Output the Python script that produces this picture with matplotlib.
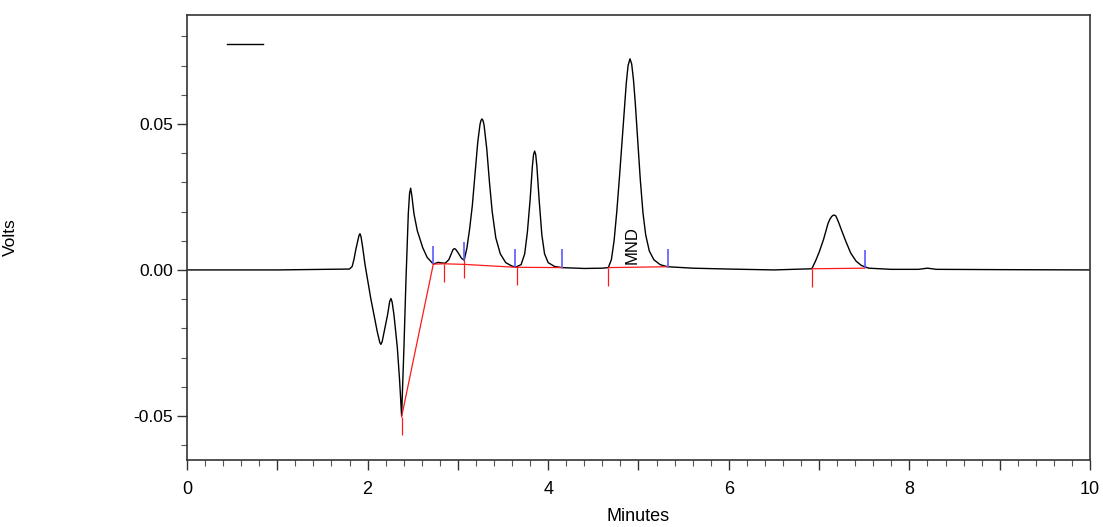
import matplotlib.pyplot as plt
from matplotlib.ticker import MultipleLocator, FuncFormatter
from matplotlib.lines import Line2D

# detector trace (minutes, volts)
time = [0.0, 1.0, 1.80, 1.83, 1.85, 1.87, 1.897, 1.905, 1.916, 1.928, 1.946, 1.971,
        2.034, 2.107, 2.135, 2.148, 2.162, 2.185, 2.222, 2.245, 2.259, 2.272, 2.292,
        2.329, 2.355, 2.377, 2.403, 2.425, 2.451, 2.465, 2.477, 2.49, 2.514, 2.551,
        2.61, 2.66, 2.728, 2.78, 2.82, 2.86, 2.90, 2.93, 2.945, 2.96, 2.975, 3.00,
        3.04, 3.07, 3.10, 3.13, 3.16, 3.19, 3.22, 3.245, 3.256, 3.267, 3.278, 3.29,
        3.32, 3.35, 3.38, 3.42, 3.47, 3.53, 3.60, 3.643, 3.70, 3.74, 3.77, 3.80,
        3.813, 3.825, 3.838, 3.85, 3.862, 3.875, 3.887, 3.90, 3.93, 3.96, 4.00,
        4.07, 4.15, 4.40, 4.60, 4.666, 4.70, 4.73, 4.76, 4.79, 4.82, 4.845, 4.865,
        4.885, 4.906, 4.925, 4.945, 4.965, 4.99, 5.02, 5.05, 5.08, 5.12, 5.17, 5.24,
        5.32, 5.60, 6.00, 6.50, 6.92, 6.96, 7.00, 7.05, 7.10, 7.12, 7.14, 7.155,
        7.168, 7.185, 7.20, 7.22, 7.25, 7.30, 7.35, 7.41, 7.47, 7.55, 7.80, 8.10,
        8.20, 8.30, 9.00, 10.0]
volts = [0.0, 0.0, 0.0003, 0.0012, 0.0037, 0.0070, 0.0108, 0.0118, 0.0124, 0.0113,
         0.0077, 0.0020, -0.0095, -0.0211, -0.0248, -0.0255, -0.0245, -0.0210,
         -0.0153, -0.0108, -0.0098, -0.0110, -0.0153, -0.0264, -0.0379, -0.0500,
         -0.0264, -0.0037, 0.0192, 0.0262, 0.0280, 0.0255, 0.0192, 0.0134, 0.0077,
         0.0043, 0.0020, 0.0026, 0.0024, 0.0023, 0.0035, 0.0058, 0.0069, 0.0073,
         0.0071, 0.0060, 0.0040, 0.0033, 0.0075, 0.0140, 0.0220, 0.0328, 0.0437,
         0.0498, 0.0512, 0.0517, 0.0512, 0.0496, 0.0415, 0.0300, 0.0200, 0.0110,
         0.0055, 0.0025, 0.0013, 0.0010, 0.0018, 0.0055, 0.0130, 0.0240, 0.0302,
         0.0355, 0.0395, 0.0407, 0.0395, 0.0355, 0.0302, 0.0240, 0.0120, 0.0055,
         0.0025, 0.0012, 0.0008, 0.0005, 0.0006, 0.0008, 0.0035, 0.0100, 0.0200,
         0.0320, 0.0450, 0.0560, 0.0640, 0.0700, 0.0723, 0.0705, 0.0650, 0.0570,
         0.0450, 0.0310, 0.0195, 0.0120, 0.0065, 0.0035, 0.0018, 0.0011, 0.0006,
         0.0003, 0.0, 0.0004, 0.0030, 0.0060, 0.0105, 0.0160, 0.0174, 0.0183,
         0.0187, 0.0188, 0.0185, 0.0175, 0.0160, 0.0135, 0.0095, 0.0058, 0.0030,
         0.0015, 0.0006, 0.0002, 0.0002, 0.0006, 0.0002, 0.0001, 0.0]

# integration baselines
base_t1 = [2.377, 2.728, 2.85, 3.07, 3.643, 4.153]
base_v1 = [-0.0503, 0.0020, 0.0021, 0.0019, 0.0009, 0.0008]
base_t2 = [4.666, 5.327]
base_v2 = [0.0008, 0.0011]
base_t3 = [6.925, 7.508]
base_v3 = [0.0004, 0.0006]

# peak start (red) and end (blue) event marks
start_t = [2.377, 2.85, 3.07, 3.655, 4.666, 6.925]
start_v = [-0.0503, 0.0021, 0.0033, 0.0009, 0.0008, 0.0004]
end_t = [2.724, 3.07, 3.63, 4.153, 5.327, 7.508]
end_v = [0.0020, 0.0033, 0.0010, 0.0008, 0.0011, 0.0006]

peak_name = "MND"
peak_label_t = 4.93
peak_label_v = 0.0022

fig = plt.figure(figsize=(11.03, 5.27), dpi=100)
ax = fig.add_axes([0.1695, 0.1271, 0.8187, 0.8444])

ax.plot(time, volts, color="black", lw=1.0)
red = "#ff1a1a"
ax.plot(base_t1, base_v1, color=red, lw=0.9)
ax.plot(base_t2, base_v2, color=red, lw=0.9)
ax.plot(base_t3, base_v3, color=red, lw=0.9)

mark = 0.0062
ax.vlines(start_t, [v - mark for v in start_v], start_v, color=red, lw=0.9)
ax.vlines(end_t, end_v, [v + mark for v in end_v], color="#5a5aff", lw=1.2)

ax.text(peak_label_t, peak_label_v, peak_name, rotation=90, ha="center",
        va="bottom", fontsize=12, family=["Liberation Sans", "DejaVu Sans"])

ax.set_xlim(0, 10)
ax.set_ylim(-0.0651, 0.0873)

ax.xaxis.set_major_locator(MultipleLocator(1))
ax.xaxis.set_minor_locator(MultipleLocator(0.2))
ax.xaxis.set_major_formatter(FuncFormatter(lambda x, p: f"{x:.0f}" if round(x) % 2 == 0 else ""))
ax.yaxis.set_major_locator(MultipleLocator(0.05))
ax.yaxis.set_minor_locator(MultipleLocator(0.01))
ax.yaxis.set_major_formatter(FuncFormatter(lambda y, p: f"{y:.2f}"))

ax.tick_params(axis="both", which="major", length=7, width=1, color="#333333")
ax.tick_params(axis="both", which="minor", length=4, width=0.8, color="#555555")
ax.tick_params(axis="x", pad=8)
ax.tick_params(axis="y", pad=3)
for lab in ax.get_xticklabels():
    lab.set_family(["Liberation Sans Narrow", "Liberation Sans"])
    lab.set_fontsize(13)
for lab in ax.get_yticklabels():
    lab.set_family(["Liberation Sans", "DejaVu Sans"])
    lab.set_fontsize(12.5)

for s in ax.spines.values():
    s.set_color("#333333")
    s.set_linewidth(1.2)

ax.set_xlabel("Minutes", fontsize=13, family=["Liberation Sans Narrow", "Liberation Sans"])
ax.set_ylabel("Volts", fontsize=12.5, family=["Liberation Sans", "DejaVu Sans"])
ax.xaxis.set_label_coords(0.5, -0.108)
ax.yaxis.set_label_coords(-0.187, 0.5)
ax.xaxis.label.set_va("top")

ax.legend(handles=[Line2D([], [], color="black", lw=1.0)], labels=[""],
          loc="center left", bbox_to_anchor=(0.0443, 0.9326), frameon=False,
          borderpad=0, borderaxespad=0, handletextpad=0, handlelength=2.6)

fig.savefig("out.png", dpi=100)
